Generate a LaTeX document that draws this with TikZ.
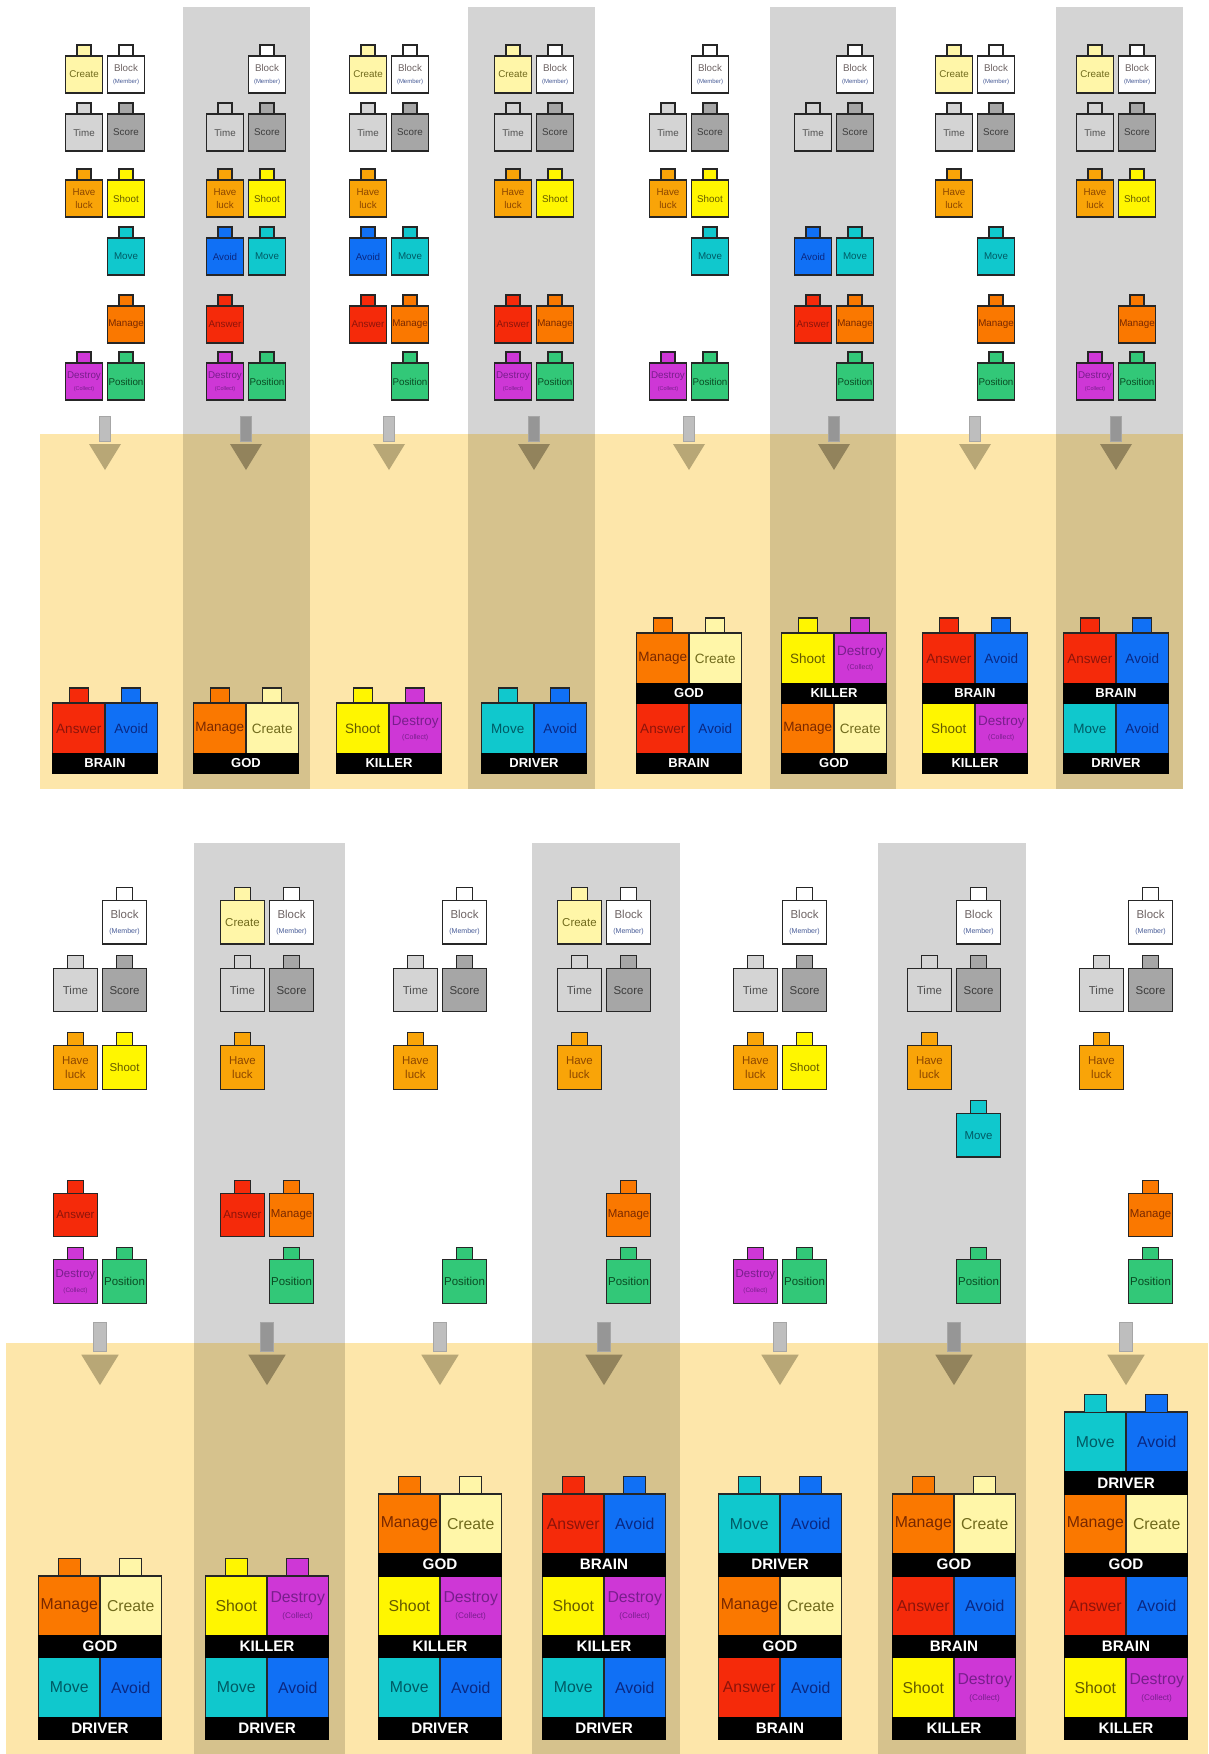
\documentclass[tikz,border=0pt]{standalone}
\usepackage{fontspec}
\setmainfont{Liberation Sans}

% background colours
\definecolor{stripegray}{RGB}{212,212,212}
\definecolor{bandyellow}{RGB}{253,230,170}
\definecolor{bandtan}{RGB}{214,194,141}
\definecolor{stemlight}{RGB}{190,190,190}
\definecolor{stemdark}{RGB}{150,150,150}
\definecolor{tiplight}{RGB}{184,167,118}
\definecolor{tipdark}{RGB}{146,131,92}
% brick colours (c = fill, t = text)
\definecolor{cCreate}{RGB}{255,246,168}   \definecolor{tCreate}{RGB}{112,106,28}
\definecolor{cBlock}{RGB}{255,255,255}    \definecolor{tBlock}{RGB}{110,100,100}
\definecolor{tMember}{RGB}{70,90,150}
\definecolor{cTime}{RGB}{212,212,212}     \definecolor{tTime}{RGB}{80,80,80}
\definecolor{cScore}{RGB}{166,166,166}    \definecolor{tScore}{RGB}{60,60,60}
\definecolor{cLuck}{RGB}{249,164,8}       \definecolor{tLuck}{RGB}{140,70,0}
\definecolor{cShoot}{RGB}{255,246,0}      \definecolor{tShoot}{RGB}{100,90,0}
\definecolor{cMove}{RGB}{16,200,205}      \definecolor{tMove}{RGB}{0,90,100}
\definecolor{cAvoid}{RGB}{16,112,245}     \definecolor{tAvoid}{RGB}{10,40,130}
\definecolor{cAnswer}{RGB}{245,42,10}     \definecolor{tAnswer}{RGB}{140,20,10}
\definecolor{cManage}{RGB}{250,120,0}     \definecolor{tManage}{RGB}{120,40,0}
\definecolor{cDestroy}{RGB}{206,55,214}   \definecolor{tDestroy}{RGB}{120,30,140}
\definecolor{cPosition}{RGB}{50,200,120}  \definecolor{tPosition}{RGB}{10,75,35}

% brick texts
\newcommand{\lblCreate}{Create}
\newcommand{\lblBlock}{Block\\{\fontsize{6}{6}\selectfont\color{tMember}(Member)}}
\newcommand{\lblTime}{Time}
\newcommand{\lblScore}{Score}
\newcommand{\lblLuck}{Have\\luck}
\newcommand{\lblShoot}{Shoot}
\newcommand{\lblMove}{Move}
\newcommand{\lblAvoid}{Avoid}
\newcommand{\lblAnswer}{Answer}
\newcommand{\lblManage}{Manage}
\newcommand{\lblDestroy}{Destroy\\{\fontsize{5.5}{5.5}\selectfont(Collect)}}
\newcommand{\lblPosition}{Position}

% one small brick: column, function, x, y
\newcommand{\brick}[4]{\node[brick, fn=#2, lug=#2] (#1-#2) at (#3,#4) {\csname lbl#2\endcsname};}
% one layer of a stack: name, level, left fn/text, right fn/text, role
\newcommand{\stacklayer}[7]{%
  \node[half, fn=#3, biglug=#3] (#1-l) at (-26.25,-294.5+70*#2) {#4};
  \node[half, fn=#5, biglug=#5] (#1-r) at (26.25,-294.5+70*#2) {#6};
  \node[tagbar] (#1-bar) at (0,-329.5+70*#2) {#7};}
\newcommand{\brainlayer}[2]{\stacklayer{#1}{#2}{Answer}{Answer}{Avoid}{Avoid}{BRAIN}}
\newcommand{\godlayer}[2]{\stacklayer{#1}{#2}{Manage}{Manage}{Create}{Create}{GOD}}
\newcommand{\killerlayer}[2]{\stacklayer{#1}{#2}{Shoot}{Shoot}{Destroy}{Destroy\\{\fontsize{7}{7}\selectfont(Collect)}}{KILLER}}
\newcommand{\driverlayer}[2]{\stacklayer{#1}{#2}{Move}{Move}{Avoid}{Avoid}{DRIVER}}
% down arrow under the bricks
\newcommand{\droparrow}[2]{%
  \fill[#1, draw=black!35, line width=0.6pt] (-5.5,18) rectangle (5.5,-7);
  \fill[#2] (-16,-10) -- (16,-10) -- (0,-36) -- cycle;}

\begin{document}
\begin{tikzpicture}[
        x=1pt, y=1pt,
        brick/.style={draw=black!85, line width=1.1pt, minimum width=37pt, minimum height=37pt, inner sep=0pt, outer sep=0pt, align=center, font=\fontsize{9.8}{12.5}\selectfont},
        half/.style={draw=black!85, line width=1.3pt, minimum width=52.5pt, minimum height=51pt, inner sep=0pt, outer sep=0pt, align=center, font=\fontsize{13.5}{13.5}\selectfont},
        tagbar/.style={fill=black, draw=black, line width=1.3pt, minimum width=105pt, minimum height=19pt, inner sep=0pt, outer sep=0pt, text=white, font=\fontsize{13}{13}\bfseries\selectfont},
        fn/.style={fill=c#1, text=t#1},
        lugbox/.style={draw=black!85, line width=1.1pt, inner sep=0pt, outer sep=0pt},
        lug/.style={label={[lugbox, fill=c#1, minimum width=14pt, minimum height=11pt]above:{}}},
        biglug/.style={label={[lugbox, fill=c#1, minimum width=19pt, minimum height=15pt]above:{}}},
        stripe/.style={fill=stripegray},
        band/.style={fill=bandyellow},
        shade/.style={fill=bandtan}
    ]
    \useasboundingbox (0,0) rectangle (1208,-1754);
    \fill[white] (0,0) rectangle (1208,-1754);

    % stripes and yellow bands
    \foreach \a/\b in {183/310, 468/595, 770/896, 1056/1183}
        \fill[stripe] (\a,-7) rectangle (\b,-789);
    \foreach \a/\b in {194/345, 532/680, 878/1026}
        \fill[stripe] (\a,-843) rectangle (\b,-1754);
    \fill[band] (40,-434) rectangle (1183,-789);
    \fill[band] (6,-1343) rectangle (1208,-1754);
    \foreach \a/\b in {183/310, 468/595, 770/896, 1056/1183}
        \fill[shade] (\a,-434) rectangle (\b,-789);
    \foreach \a/\b in {194/345, 532/680, 878/1026}
        \fill[shade] (\a,-1343) rectangle (\b,-1754);

    % Top row
    \begin{scope}[shift={(105,-434)}]
        \foreach \f/\x/\y in {Create/-21/359.5, Block/21/359.5, Time/-21/301.5, Score/21/301.5, Luck/-21/235.5, Shoot/21/235.5, Move/21/177.5, Manage/21/109.5, Destroy/-21/52.5, Position/21/52.5}
            {\brick{a1}{\f}{\x}{\y}}
        \droparrow{stemlight}{tiplight}
        \brainlayer{a1-s0}{0}
    \end{scope}
    \begin{scope}[shift={(246,-434)}]
        \foreach \f/\x/\y in {Block/21/359.5, Time/-21/301.5, Score/21/301.5, Luck/-21/235.5, Shoot/21/235.5, Avoid/-21/177.5, Move/21/177.5, Answer/-21/109.5, Destroy/-21/52.5, Position/21/52.5}
            {\brick{a2}{\f}{\x}{\y}}
        \droparrow{stemdark}{tipdark}
        \godlayer{a2-s0}{0}
    \end{scope}
    \begin{scope}[shift={(389,-434)}]
        \foreach \f/\x/\y in {Create/-21/359.5, Block/21/359.5, Time/-21/301.5, Score/21/301.5, Luck/-21/235.5, Avoid/-21/177.5, Move/21/177.5, Answer/-21/109.5, Manage/21/109.5, Position/21/52.5}
            {\brick{a3}{\f}{\x}{\y}}
        \droparrow{stemlight}{tiplight}
        \killerlayer{a3-s0}{0}
    \end{scope}
    \begin{scope}[shift={(534,-434)}]
        \foreach \f/\x/\y in {Create/-21/359.5, Block/21/359.5, Time/-21/301.5, Score/21/301.5, Luck/-21/235.5, Shoot/21/235.5, Answer/-21/109.5, Manage/21/109.5, Destroy/-21/52.5, Position/21/52.5}
            {\brick{a4}{\f}{\x}{\y}}
        \droparrow{stemdark}{tipdark}
        \driverlayer{a4-s0}{0}
    \end{scope}
    \begin{scope}[shift={(689,-434)}]
        \foreach \f/\x/\y in {Block/21/359.5, Time/-21/301.5, Score/21/301.5, Luck/-21/235.5, Shoot/21/235.5, Move/21/177.5, Destroy/-21/52.5, Position/21/52.5}
            {\brick{a5}{\f}{\x}{\y}}
        \droparrow{stemlight}{tiplight}
        \brainlayer{a5-s0}{0}
        \godlayer{a5-s1}{1}
    \end{scope}
    \begin{scope}[shift={(834,-434)}]
        \foreach \f/\x/\y in {Block/21/359.5, Time/-21/301.5, Score/21/301.5, Avoid/-21/177.5, Move/21/177.5, Answer/-21/109.5, Manage/21/109.5, Position/21/52.5}
            {\brick{a6}{\f}{\x}{\y}}
        \droparrow{stemdark}{tipdark}
        \godlayer{a6-s0}{0}
        \killerlayer{a6-s1}{1}
    \end{scope}
    \begin{scope}[shift={(975,-434)}]
        \foreach \f/\x/\y in {Create/-21/359.5, Block/21/359.5, Time/-21/301.5, Score/21/301.5, Luck/-21/235.5, Move/21/177.5, Manage/21/109.5, Position/21/52.5}
            {\brick{a7}{\f}{\x}{\y}}
        \droparrow{stemlight}{tiplight}
        \killerlayer{a7-s0}{0}
        \brainlayer{a7-s1}{1}
    \end{scope}
    \begin{scope}[shift={(1116,-434)}]
        \foreach \f/\x/\y in {Create/-21/359.5, Block/21/359.5, Time/-21/301.5, Score/21/301.5, Luck/-21/235.5, Shoot/21/235.5, Manage/21/109.5, Destroy/-21/52.5, Position/21/52.5}
            {\brick{a8}{\f}{\x}{\y}}
        \droparrow{stemdark}{tipdark}
        \driverlayer{a8-s0}{0}
        \brainlayer{a8-s1}{1}
    \end{scope}

    % Bottom row - same drawing, bigger
    \begin{scope}[shift={(100,-1343)}, scale=1.17, transform shape]
        \foreach \f/\x/\y in {Block/21/359.5, Time/-21/301.5, Score/21/301.5, Luck/-21/235.5, Shoot/21/235.5, Answer/-21/109.5, Destroy/-21/52.5, Position/21/52.5}
            {\brick{b1}{\f}{\x}{\y}}
        \droparrow{stemlight}{tiplight}
        \driverlayer{b1-s0}{0}
        \godlayer{b1-s1}{1}
    \end{scope}
    \begin{scope}[shift={(267,-1343)}, scale=1.17, transform shape]
        \foreach \f/\x/\y in {Create/-21/359.5, Block/21/359.5, Time/-21/301.5, Score/21/301.5, Luck/-21/235.5, Answer/-21/109.5, Manage/21/109.5, Position/21/52.5}
            {\brick{b2}{\f}{\x}{\y}}
        \droparrow{stemdark}{tipdark}
        \driverlayer{b2-s0}{0}
        \killerlayer{b2-s1}{1}
    \end{scope}
    \begin{scope}[shift={(440,-1343)}, scale=1.17, transform shape]
        \foreach \f/\x/\y in {Block/21/359.5, Time/-21/301.5, Score/21/301.5, Luck/-21/235.5, Position/21/52.5}
            {\brick{b3}{\f}{\x}{\y}}
        \droparrow{stemlight}{tiplight}
        \driverlayer{b3-s0}{0}
        \killerlayer{b3-s1}{1}
        \godlayer{b3-s2}{2}
    \end{scope}
    \begin{scope}[shift={(604,-1343)}, scale=1.17, transform shape]
        \foreach \f/\x/\y in {Create/-21/359.5, Block/21/359.5, Time/-21/301.5, Score/21/301.5, Luck/-21/235.5, Manage/21/109.5, Position/21/52.5}
            {\brick{b4}{\f}{\x}{\y}}
        \droparrow{stemdark}{tipdark}
        \driverlayer{b4-s0}{0}
        \killerlayer{b4-s1}{1}
        \brainlayer{b4-s2}{2}
    \end{scope}
    \begin{scope}[shift={(780,-1343)}, scale=1.17, transform shape]
        \foreach \f/\x/\y in {Block/21/359.5, Time/-21/301.5, Score/21/301.5, Luck/-21/235.5, Shoot/21/235.5, Destroy/-21/52.5, Position/21/52.5}
            {\brick{b5}{\f}{\x}{\y}}
        \droparrow{stemlight}{tiplight}
        \brainlayer{b5-s0}{0}
        \godlayer{b5-s1}{1}
        \driverlayer{b5-s2}{2}
    \end{scope}
    \begin{scope}[shift={(954,-1343)}, scale=1.17, transform shape]
        \foreach \f/\x/\y in {Block/21/359.5, Time/-21/301.5, Score/21/301.5, Luck/-21/235.5, Move/21/177.5, Position/21/52.5}
            {\brick{b6}{\f}{\x}{\y}}
        \droparrow{stemdark}{tipdark}
        \killerlayer{b6-s0}{0}
        \brainlayer{b6-s1}{1}
        \godlayer{b6-s2}{2}
    \end{scope}
    \begin{scope}[shift={(1126,-1343)}, scale=1.17, transform shape]
        \foreach \f/\x/\y in {Block/21/359.5, Time/-21/301.5, Score/21/301.5, Luck/-21/235.5, Manage/21/109.5, Position/21/52.5}
            {\brick{b7}{\f}{\x}{\y}}
        \droparrow{stemlight}{tiplight}
        \killerlayer{b7-s0}{0}
        \brainlayer{b7-s1}{1}
        \godlayer{b7-s2}{2}
        \driverlayer{b7-s3}{3}
    \end{scope}
\end{tikzpicture}
\end{document}
